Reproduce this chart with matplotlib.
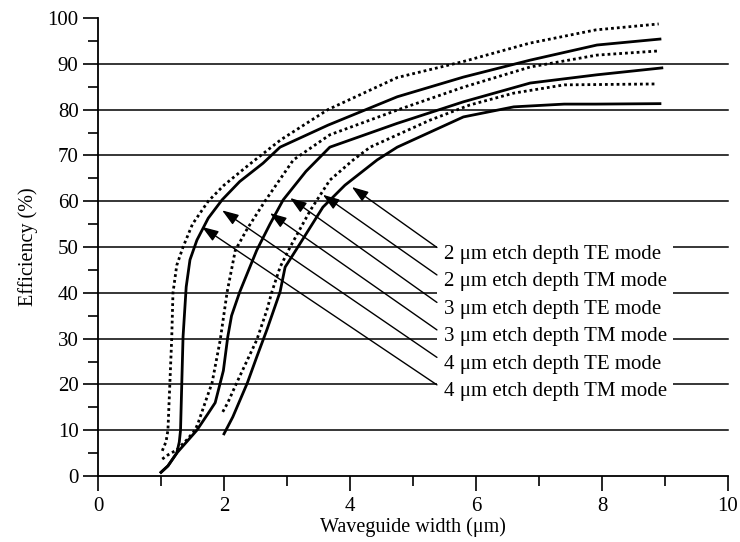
import matplotlib.pyplot as plt
from matplotlib.patches import Rectangle

plt.rcParams['font.family'] = ['Liberation Serif', 'DejaVu Serif']

# waveguide width (um) and efficiency (%)
te_2um_x = [2.0, 2.14, 2.37, 2.52, 2.68, 2.89, 2.97, 3.15, 3.57, 3.92, 4.43, 4.75, 5.8, 6.6, 7.4, 7.9, 8.92]
te_2um_y = [9.2, 12.9, 20.3, 26.0, 31.9, 40.2, 45.6, 49.5, 58.7, 63.5, 69.0, 71.8, 78.4, 80.6, 81.2, 81.2, 81.3]

tm_2um_x = [1.98, 2.06, 2.2, 2.37, 2.52, 2.68, 2.76, 2.89, 3.05, 3.37, 3.68, 4.05, 4.32, 5.27, 5.9, 6.6, 7.4, 8.87]
tm_2um_y = [14.0, 16.0, 20.3, 25.3, 29.7, 36.2, 40.2, 45.6, 50.0, 58.0, 64.6, 69.0, 71.8, 77.7, 81.0, 83.6, 85.4, 85.6]

te_3um_x = [1.0, 1.11, 1.25, 1.57, 1.75, 1.86, 1.99, 2.06, 2.12, 2.25, 2.41, 2.52, 2.73, 2.94, 3.3, 3.68, 4.75, 5.8, 6.86, 7.92, 8.95]
te_3um_y = [0.8, 2.2, 5.0, 10.0, 13.7, 16.0, 23.0, 30.4, 35.0, 40.2, 45.6, 49.3, 55.0, 60.3, 66.5, 71.8, 77.0, 81.7, 85.8, 87.6, 89.1]

tm_3um_x = [1.02, 1.11, 1.25, 1.41, 1.54, 1.59, 1.73, 1.81, 1.94, 2.05, 2.18, 2.37, 2.65, 3.1, 3.68, 4.75, 5.8, 6.86, 7.92, 8.89]
tm_3um_y = [3.7, 4.6, 5.7, 7.9, 10.0, 11.6, 17.2, 20.3, 29.7, 40.2, 49.3, 54.0, 60.0, 69.0, 74.5, 79.9, 84.9, 89.3, 91.9, 92.8]

te_4um_x = [1.0, 1.11, 1.25, 1.29, 1.31, 1.33, 1.35, 1.40, 1.46, 1.57, 1.75, 1.97, 2.25, 2.62, 2.89, 3.65, 4.75, 5.8, 6.86, 7.92, 8.92]
te_4um_y = [0.8, 2.2, 5.0, 7.4, 10.0, 20.3, 30.4, 41.3, 47.2, 51.5, 56.3, 60.3, 64.3, 68.3, 71.8, 76.6, 82.8, 87.1, 90.8, 94.1, 95.4]

tm_4um_x = [1.02, 1.08, 1.11, 1.14, 1.17, 1.19, 1.25, 1.35, 1.5, 1.75, 2.0, 2.4, 2.9, 3.65, 4.75, 5.8, 6.85, 7.9, 8.9]
tm_4um_y = [5.5, 7.5, 10.0, 20.0, 30.0, 40.0, 46.0, 50.0, 55.0, 60.0, 63.5, 68.0, 73.4, 80.0, 87.0, 90.5, 94.5, 97.4, 98.7]

labels = ['2 \u03bcm etch depth TE mode', '2 \u03bcm etch depth TM mode',
          '3 \u03bcm etch depth TE mode', '3 \u03bcm etch depth TM mode',
          '4 \u03bcm etch depth TE mode', '4 \u03bcm etch depth TM mode']
# where each label's arrow points
arrow_x = [4.03, 3.57, 3.05, 2.73, 1.97, 1.65]
arrow_y = [63.1, 61.4, 60.7, 57.4, 58.0, 54.4]

fig = plt.figure(figsize=(7.4, 5.42), dpi=100)
ax = fig.add_axes([98/740, 1 - 476/542, 630/740, 458/542])
ax.set_xlim(0, 10)
ax.set_ylim(0, 100)

# horizontal grid lines
for yv in range(10, 100, 10):
    ax.plot([0, 10], [yv, yv], color='black', lw=1.1, zorder=1, clip_on=False)

# blank band behind the labels
ax.add_patch(Rectangle((5.38, 17.3), 3.75, 34.0, facecolor='white', edgecolor='none', zorder=2))

dot = (0, (1, 1.1))
ax.plot(te_2um_x, te_2um_y, color='black', lw=2.0, zorder=3)
ax.plot(tm_2um_x, tm_2um_y, color='black', lw=2.0, ls=dot, zorder=3)
ax.plot(te_3um_x, te_3um_y, color='black', lw=2.0, zorder=3)
ax.plot(tm_3um_x, tm_3um_y, color='black', lw=2.0, ls=dot, zorder=3)
ax.plot(te_4um_x, te_4um_y, color='black', lw=2.0, zorder=3)
ax.plot(tm_4um_x, tm_4um_y, color='black', lw=2.0, ls=dot, zorder=3)

for i, lab in enumerate(labels):
    ty = 48.4 - i * 6.0
    ax.text(5.5, ty, lab, fontsize=15, va='center', ha='left', zorder=4)
    ax.annotate('', xy=(arrow_x[i], arrow_y[i]), xytext=(5.38, ty + 1.5),
                arrowprops=dict(arrowstyle='-|>,head_length=1.0,head_width=0.35',
                                color='black', lw=1.0, shrinkA=0, shrinkB=0),
                zorder=4)

ax.spines['top'].set_visible(False)
ax.spines['right'].set_visible(False)
ax.spines['left'].set_linewidth(1.3)
ax.spines['bottom'].set_linewidth(1.3)

ax.set_xticks(range(0, 11, 2))
ax.set_xticks(range(1, 10, 2), minor=True)
ax.set_yticks(range(0, 101, 10))
ax.set_yticks(range(5, 100, 10), minor=True)
ax.tick_params(which='major', length=11, width=1.2, labelsize=15, pad=4)
ax.tick_params(which='minor', length=7, width=1.2)
ax.tick_params(axis='y', which='major', length=11, pad=3)

ax.set_xlabel('Waveguide width (\u03bcm)', fontsize=14.5, labelpad=1)
ax.set_ylabel('Efficiency (%)', fontsize=14.5, labelpad=7)

fig.savefig('out.png', dpi=100)
